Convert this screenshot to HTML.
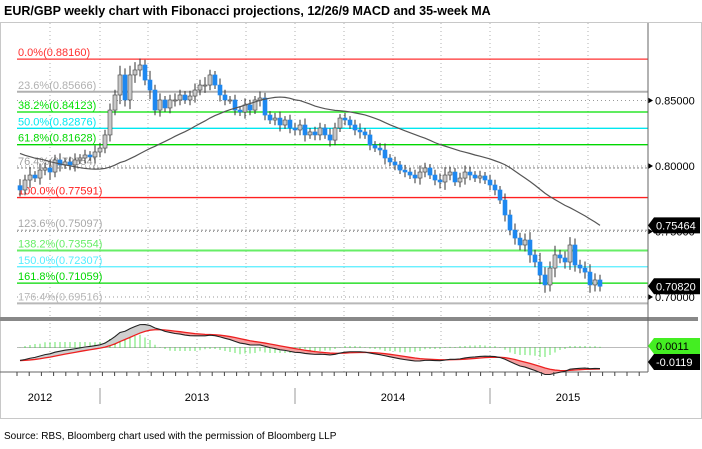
<!DOCTYPE html>
<html><head><meta charset="utf-8"><style>
body{margin:0;width:702px;height:449px;background:#fff;overflow:hidden;font-family:"Liberation Sans",sans-serif}
svg{position:absolute;left:0;top:0}
</style></head><body>
<svg id="c" width="702" height="449" xmlns="http://www.w3.org/2000/svg">
<text x="4" y="15" font-size="12.5" font-weight="bold" fill="#000">EUR/GBP weekly chart with Fibonacci projections, 12/26/9 MACD and 35-week MA</text>
<rect x="0.5" y="22.5" width="701" height="396" fill="none" stroke="#c8c8c8"/>
<text x="4" y="439" font-size="10" fill="#000">Source: RBS, Bloomberg chart used with the permission of Bloomberg LLP</text>
</svg>
<script>
const closes=[.7817,.7893,.7931,.7908,.7969,.7985,.7954,.8046,.8008,.8031,.8008,.8046,.8061,.8084,.8069,.8107,.8137,
.8237,.8427,.8542,.8695,.8504,.8695,.8733,.8771,.8656,.858,.8427,.8504,.8443,.8504,.8504,.8542,.8504,.8534,.858,.8618,.8618,.8695,.8618,.8542,.8504,.8504,.8427,.8412,.8466,.8427,.8504,.8519,.8389,.8351,.8366,.8313,.8351,.829,.8275,
.8313,.8237,.826,.8237,.829,.8237,.8198,.829,.8366,.8351,.8313,.8275,.826,.8237,.816,.8137,.8122,.8061,.8031,.8008,.7969,.7954,.7931,.7908,.7954,.7985,.7931,.7893,.7878,.7931,.7954,.7878,.7908,.7954,.7931,.7908,.7924,.7893,.7855,
.7817,.774,.7626,.7511,.745,.7397,.7435,.7321,.7267,.7168,.7092,.7221,.7321,.7298,.7267,.7397,.7244,.7221,.719,.7092,.713,.7082];
const wicks=[.005,.004,.006,.003,.005,.004,.006,.004,.005,.003,.004,.005,.003,.004,.003,.005,.004,
.004,.005,.004,.007,.005,.007,.006,.005,.004,.007,.004,.005,.003,.004,.005,.004,.003,.004,.005,.004,.006,.004,.003,.005,.004,.003,.004,.003,.005,.004,.003,.005,.004,.003,.004,.005,.003,.004,.004,
.004,.005,.003,.004,.004,.003,.005,.004,.003,.004,.003,.004,.005,.003,.004,.003,.004,.005,.003,.004,.003,.004,.003,.004,.005,.004,.003,.004,.005,.006,.004,.003,.004,.005,.004,.003,.004,.003,.004,
.004,.003,.005,.004,.005,.004,.005,.006,.004,.007,.006,.005,.007,.004,.005,.006,.005,.004,.005,.006,.005,.004];
const priorCloses=[.84,.83,.83,.82,.83,.835,.835,.83,.83,.825,.83,.83,.83,.82,.815,.81,.81,.805,.80,.805,.81,.805,.81,.805,.795,.79,.785,.785,.78,.785,.78,.79,.79,.785];
const fibPct=["0.0%","23.6%","38.2%","50.0%","61.8%","76.4%","100.0%","123.6%","138.2%","150.0%","161.8%","176.4%"];
const fibVal=[0.88160,0.85666,0.84123,0.82876,0.81628,0.79854,0.77591,0.75097,0.73554,0.72307,0.71059,0.69516];
const fibColor=["#ff3030","#b0b0b0","#00e000","#00e8f0","#00d800","#a0a0a0","#ff2020","#a8a8a8","#66ee66","#55eeff","#00d800","#b8b8b8"];
const priceTicks=[0.85,0.80,0.75,0.70];
const years=["2012","2013","2014","2015"];
const yearPos=[40,197,393,568];
const NS="http://www.w3.org/2000/svg",svg=document.getElementById('c');
const X0=17,X1=648;
const xi=i=>20+i*5;
const yp=p=>166-(p-0.8)*1310;
const ym=v=>347.5-v*1230;
function mk(t,a,p){const e=document.createElementNS(NS,t);for(const k in a)e.setAttribute(k,a[k]);(p||svg).appendChild(e);return e;}
[50,100,148,197,246,295,344,393,441,490,539,588].forEach(x=>{
 const g=mk('line',{x1:x,x2:x,y1:23,y2:372,stroke:'#b0b0b0','stroke-dasharray':'1,3'});
 
 
});
priceTicks.forEach(p=>{
 const g=mk('line',{x1:X0,x2:X1,y1:yp(p),y2:yp(p),stroke:'#999','stroke-dasharray':'1,3'});
 
 
 const t=mk('text',{x:655,y:yp(p)+4,'font-size':11,fill:'#000'});t.textContent=p.toFixed(5);
 
 
 mk('path',{d:`M648 ${yp(p)-3}L653 ${yp(p)}L648 ${yp(p)+3}Z`,fill:'#000'});
});
fibVal.forEach((v,i)=>{
 const dotted=(i==5||i==7);
 const l=mk('line',{x1:X0,x2:X1,y1:yp(v),y2:yp(v),stroke:fibColor[i],'stroke-width':(i==1||i==8||i==11)?2:1.3,'stroke-dasharray':dotted?'2,2':'none'});
 
 
 const t=mk('text',{x:18,y:yp(v)-3,'font-size':11,fill:fibColor[i]});
 t.textContent=fibPct[i]+'('+v.toFixed(5)+')';
 
 
});
const allC=priorCloses.concat(closes);
closes.forEach((c,i)=>{
 const o=i?closes[i-1]:priorCloses[priorCloses.length-1];
 const hi=Math.max(o,c)+wicks[i],lo=Math.min(o,c)-wicks[i],x=xi(i);
 const w=mk('line',{x1:x,x2:x,y1:yp(hi),y2:yp(lo),stroke:'#333'});
 
 
 const up=c>=o,top=yp(Math.max(o,c)),h=Math.max(1,Math.abs(yp(o)-yp(c)));
 const b=mk('rect',{x:x-2,y:top,width:4,height:h,fill:up?'#c8c8c8':'#1e88f0',stroke:up?'#444':'#1e88f0','stroke-width':0.6});
 
 
});
let ma=[];closes.forEach((c,i)=>{const j=i+priorCloses.length;let s=0;for(let k=j-34;k<=j;k++)s+=allC[k];ma.push(s/35);});
const mal=mk('polyline',{points:ma.map((v,i)=>xi(i)+','+yp(v)).join(' '),fill:'none',stroke:'#555','stroke-width':1.2});


const sep=mk('rect',{x:0,y:317,width:X1+50,height:4,fill:'#888'});


mk('line',{x1:X1,x2:X1,y1:23,y2:372,stroke:'#666'});
mk('line',{x1:0,x2:X1,y1:372,y2:372,stroke:'#666'});
function ema(arr,n){const k=2/(n+1);let r=[arr[0]];for(let i=1;i<arr.length;i++)r.push(arr[i]*k+r[i-1]*(1-k));return r;}
const e12=ema(allC,12),e26=ema(allC,26);const macdA=e12.map((v,i)=>v-e26[i]);const sigA=ema(macdA,9);
const off=priorCloses.length,macd=macdA.slice(off),sig=sigA.slice(off);
mk('line',{x1:X0,x2:X1,y1:ym(0),y2:ym(0),stroke:'#bbb'});
macd.forEach((m,i)=>{
 const d=(m-sig[i])*1.5;
 const hb=mk('line',{x1:xi(i),x2:xi(i),y1:ym(0),y2:ym(d),stroke:'#33dd33','stroke-width':1.5,'stroke-dasharray':'1,1'});
 
 
 if(i>0){const a=mk('polygon',{points:`${xi(i-1)},${ym(macd[i-1])} ${xi(i)},${ym(m)} ${xi(i)},${ym(sig[i])} ${xi(i-1)},${ym(sig[i-1])}`,fill:m>=sig[i]?'#cfcfcf':'#f4a0a0',stroke:'none'});
 
 }
});
const sl=mk('polyline',{points:sig.map((v,i)=>xi(i)+','+ym(v)).join(' '),fill:'none',stroke:'#ee2020','stroke-width':1.3});


const ml=mk('polyline',{points:macd.map((v,i)=>xi(i)+','+ym(v)).join(' '),fill:'none',stroke:'#222','stroke-width':1.1});


function callout(y,txt,bg,fg,name){
 const g=mk('g',{});
 
 
 mk('path',{d:`M648 ${y}L654 ${y-8}L700 ${y-8}L700 ${y+8}L654 ${y+8}Z`,fill:bg},g);
 const t=mk('text',{x:656,y:y+4,'font-size':11,fill:fg},g);t.textContent=txt;
}
callout(yp(ma[ma.length-1]),ma[ma.length-1].toFixed(5),'#000','#fff','ma-value-callout');
callout(yp(closes[closes.length-1]),closes[closes.length-1].toFixed(5),'#000','#fff','price-value-callout');
callout(346,'0.0011','#44ee22','#000','macd-hist-callout');
callout(362,'-0.0119','#000','#fff','macd-value-callout');
for(let x=X0;x<X1;x+=12.2)mk('line',{x1:x,x2:x,y1:372,y2:376,stroke:'#444'});
[100,295,490].forEach(x=>{const s=mk('line',{x1:x,x2:x,y1:388,y2:404,stroke:'#999'});
 
 });
years.forEach((y,i)=>{const t=mk('text',{x:yearPos[i],y:401,'font-size':11,'text-anchor':'middle',fill:'#000'});t.textContent=y;
 
 });
</script>
</body></html>
